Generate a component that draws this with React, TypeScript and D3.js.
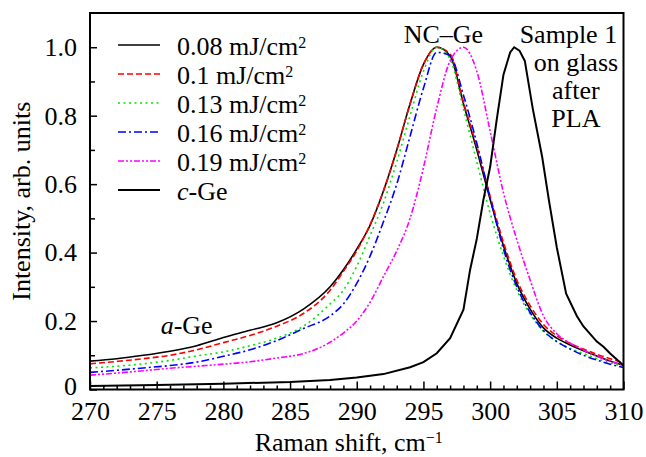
import { useEffect, useRef } from "react";
import * as d3 from "d3";

// Raman shift grid for the NC-Ge spectra (cm^-1)
const shiftGrid = [
  270, 272, 274, 276, 278, 280, 282, 284, 286, 288, 289, 290, 291, 292, 293, 294, 295, 296, 297, 298,
  299, 300, 301, 302, 303, 304, 305, 306, 307, 308, 309, 310,
];

const int008 = [
  0.083, 0.09, 0.1, 0.112, 0.128, 0.152, 0.173, 0.195, 0.235, 0.3, 0.35, 0.41, 0.48, 0.58, 0.7, 0.835,
  0.95, 1.0, 0.975, 0.835, 0.7, 0.555, 0.42, 0.31, 0.235, 0.18, 0.15, 0.13, 0.113, 0.098, 0.083, 0.07,
];
const int010 = [
  0.075, 0.082, 0.09, 0.1, 0.116, 0.137, 0.158, 0.185, 0.222, 0.29, 0.345, 0.405, 0.482, 0.58, 0.7, 0.835,
  0.95, 1.0, 0.98, 0.84, 0.71, 0.565, 0.43, 0.32, 0.245, 0.19, 0.157, 0.135, 0.118, 0.103, 0.09, 0.077,
];
const int013 = [
  0.063, 0.068, 0.075, 0.085, 0.098, 0.11, 0.128, 0.15, 0.185, 0.25, 0.29, 0.36, 0.45, 0.545, 0.665, 0.8,
  0.93, 1.0, 0.965, 0.82, 0.665, 0.515, 0.39, 0.29, 0.22, 0.17, 0.14, 0.12, 0.105, 0.09, 0.078, 0.068,
];
const int016 = [
  0.05, 0.056, 0.063, 0.07, 0.08, 0.097, 0.116, 0.143, 0.178, 0.215, 0.25, 0.31, 0.39, 0.49, 0.6, 0.74,
  0.88, 0.985, 0.975, 0.86, 0.72, 0.56, 0.41, 0.3, 0.225, 0.172, 0.14, 0.118, 0.1, 0.086, 0.074, 0.064,
];
const int019 = [
  0.042, 0.048, 0.055, 0.062, 0.068, 0.074, 0.081, 0.092, 0.105, 0.138, 0.165, 0.2, 0.255, 0.33, 0.405, 0.5,
  0.648, 0.823, 0.96, 1.0, 0.93, 0.755, 0.575, 0.438, 0.32, 0.215, 0.163, 0.135, 0.115, 0.097, 0.083, 0.07,
];

// crystalline Ge reference
const cGeShift = [
  270, 275, 280, 285, 288, 290, 292, 294, 295, 296, 297, 298, 298.5, 299, 299.5, 300, 300.5, 301, 301.5,
  301.8, 302.2, 302.6, 303.2, 303.9, 304.4, 305, 305.7, 306.5, 307, 308, 308.5, 309, 309.5, 310,
];
const cGeInt = [
  0.01, 0.013, 0.017, 0.022, 0.028, 0.035, 0.045, 0.065, 0.08, 0.106, 0.15, 0.233, 0.35, 0.44, 0.555, 0.65,
  0.79, 0.92, 0.985, 1.0, 0.99, 0.96, 0.82, 0.68, 0.555, 0.415, 0.28, 0.215, 0.184, 0.14, 0.125, 0.105, 0.088,
  0.07,
];

const fluences = ["0.08", "0.1", "0.13", "0.16", "0.19"];
const xTicks = [270, 275, 280, 285, 290, 295, 300, 305, 310];
const yTicks = [0, 0.2, 0.4, 0.6, 0.8, 1.0];

const FONT = "Liberation Serif, DejaVu Serif, serif";

const App = () => {
  const svgRef = useRef<SVGSVGElement>(null);

  useEffect(() => {
    const svg = d3.select(svgRef.current);
    svg.selectAll("*").remove();

    const left = 90,
      right = 623.5,
      top = 13,
      bottom = 389.5;

    const x = d3.scaleLinear().domain([270, 310]).range([left, right]);
    const y = d3.scaleLinear().domain([0, 1.1]).range([bottom, top]);

    const series = [
      { vals: int008, color: "#000000", dash: null },
      { vals: int010, color: "#ff0000", dash: "6,3" },
      { vals: int013, color: "#00e600", dash: "2,3.5" },
      { vals: int016, color: "#0000ff", dash: "8,3,2,3" },
      { vals: int019, color: "#ff00ff", dash: "6,2,2,2,2,2" },
    ];

    const line = d3
      .line<number>()
      .x((_, i) => x(shiftGrid[i]))
      .y((d) => y(d))
      .curve(d3.curveMonotoneX);

    series.forEach((s) => {
      svg
        .append("path")
        .datum(s.vals)
        .attr("d", line)
        .attr("fill", "none")
        .attr("stroke", s.color)
        .attr("stroke-width", 1.6)
        .attr("stroke-dasharray", s.dash);
    });

    const cLine = d3
      .line<number>()
      .x((_, i) => x(cGeShift[i]))
      .y((d) => y(d))
      .curve(d3.curveLinear);

    svg
      .append("path")
      .datum(cGeInt)
      .attr("d", cLine)
      .attr("fill", "none")
      .attr("stroke", "#000")
      .attr("stroke-width", 2);

    // Axes (ticks inward)
    const xAxis = svg
      .append("g")
      .attr("transform", `translate(0,${bottom})`)
      .call(d3.axisBottom(x).tickValues(xTicks).tickSize(-8).tickPadding(12).tickFormat(d3.format("d")));
    svg
      .append("g")
      .attr("transform", `translate(0,${bottom})`)
      .call(
        d3
          .axisBottom(x)
          .tickValues(d3.range(270, 311, 1).filter((v) => v % 5 !== 0))
          .tickSize(-4)
          .tickFormat(() => "")
      )
      .call((g) => g.select(".domain").remove());

    const yAxis = svg
      .append("g")
      .attr("transform", `translate(${left},0)`)
      .call(
        d3
          .axisLeft(y)
          .tickValues(yTicks)
          .tickSize(-7)
          .tickPadding(13)
          .tickFormat((d) => (d === 0 ? "0" : d3.format(".1f")(d as number)))
      );
    svg
      .append("g")
      .attr("transform", `translate(${left},0)`)
      .call(
        d3
          .axisLeft(y)
          .tickValues([0.1, 0.3, 0.5, 0.7, 0.9])
          .tickSize(-5)
          .tickFormat(() => "")
      )
      .call((g) => g.select(".domain").remove());

    [xAxis, yAxis].forEach((g) => {
      g.attr("font-family", null).attr("font-size", null);
      g.select(".domain").remove();
      g.selectAll("text").style("font-family", FONT).style("font-size", "26px").attr("fill", "#000");
    });
    // lift the "0" label a touch so it clears the 270 label
    yAxis.selectAll("text").filter((d) => d === 0).attr("dy", "0.2em");
    svg.selectAll(".tick line").attr("stroke", "#000").attr("stroke-width", 1.5);

    // frame
    svg
      .append("rect")
      .attr("x", left)
      .attr("y", top)
      .attr("width", right - left)
      .attr("height", bottom - top)
      .attr("fill", "none")
      .attr("stroke", "#000")
      .attr("stroke-width", 2);

    const addText = (xp: number, yp: number, anchor = "start") =>
      svg
        .append("text")
        .attr("x", xp)
        .attr("y", yp)
        .attr("text-anchor", anchor)
        .style("font-family", FONT)
        .style("font-size", "26px");

    // Axis titles
    const xt = addText((left + right) / 2 - 8, 451, "middle");
    xt.append("tspan").text("Raman shift, cm");
    xt.append("tspan").attr("dy", -8).style("font-size", "16px").text("\u22121");

    addText(0, 0, "middle")
      .attr("x", null)
      .attr("y", null)
      .attr("transform", `translate(30,${(top + bottom) / 2}) rotate(-90)`)
      .text("Intensity, arb. units");

    // Legend
    const legendItems = [
      ...series.map((s, i) => ({ color: s.color, dash: s.dash, label: fluences[i] })),
      { color: "#000", dash: null, label: "c-Ge" },
    ];
    legendItems.forEach((s, i) => {
      const ly = 45 + 29 * i;
      svg
        .append("line")
        .attr("x1", 118)
        .attr("x2", 160)
        .attr("y1", ly)
        .attr("y2", ly)
        .attr("stroke", s.color)
        .attr("stroke-width", i === 5 ? 2 : 1.6)
        .attr("stroke-dasharray", s.dash);
      const t = addText(177, ly + 10);
      if (i < 5) {
        t.append("tspan").text(`${s.label} mJ/cm`);
        t.append("tspan").attr("dy", -7).style("font-size", "16px").text("2");
      } else {
        t.append("tspan").style("font-style", "italic").text("c");
        t.append("tspan").text("-Ge");
      }
    });

    // Annotations
    addText(x(296.5), 43, "middle").text("NC\u2013Ge");

    [
      ["Sample 1", 305.87, 43],
      ["on glass", 306.43, 71],
      ["after", 306.43, 99],
      ["PLA", 306.43, 127],
    ].forEach(([txt, xv, yp]) => {
      addText(x(xv as number), yp as number, "middle").text(txt as string);
    });

    const ag = addText(x(275.3), 334);
    ag.append("tspan").style("font-style", "italic").text("a");
    ag.append("tspan").text("-Ge");
  }, []);

  return (
    <svg
      ref={svgRef}
      width={646}
      height={457}
      style={{ position: "absolute", left: 0, top: 0, background: "#fff", fontFamily: FONT }}
    />
  );
};

export default App;
